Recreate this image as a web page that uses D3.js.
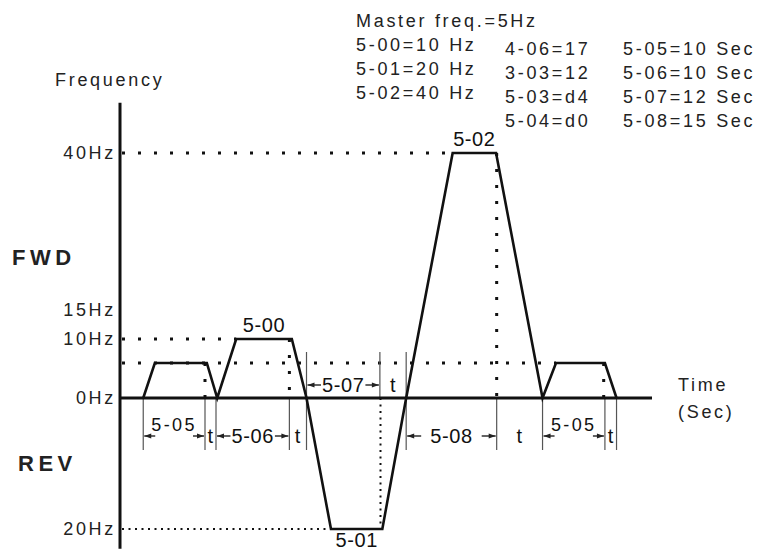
<!DOCTYPE html>
<html>
  <head>
    <meta charset="utf-8">
    <title>Frequency profile</title>
    <style>
      body { margin: 0; background: #fff; }
      svg { display: block; font-family: "Liberation Sans", Arial, sans-serif; }
      .lbl { font-size: 18px; fill: #222; letter-spacing: 2.7px; }
      .big { font-size: 22px; font-weight: bold; fill: #222; letter-spacing: 4.5px; }
      .tag { font-size: 20px; fill: #111; letter-spacing: 0.6px; }
      .tag.spaced { font-size: 18px; letter-spacing: 2.4px; }
      .profile { fill: none; stroke: #111; stroke-width: 2.6; stroke-linejoin: miter; }
      .axis { stroke: #111; stroke-width: 3; }
      .guide { stroke: #111; stroke-width: 3; stroke-dasharray: 3,13; }
      .guide.fine { stroke-width: 2; stroke-dasharray: 2,4.5; }
      .mark { stroke: #555; stroke-width: 1.2; }
      .arrow { stroke: #222; stroke-width: 1.4; }
      .head { fill: #222; }
    </style>
  </head>
  <body>
    <div id="chart"></div>
    <script src="https://cdn.jsdelivr.net/npm/d3@7/dist/d3.min.js"></script>
    <script>
      // speed profile (time in s, frequency in Hz, REV as negative)
      var profileTime = [3.8, 5.7, 14.2, 15.9, 19.0, 28.1, 30.5, 34.5, 42.9, 46.8, 54.4, 61.5, 69.1, 71.3, 79.3, 81.2];
      var profileFreq = [0, 5, 5, 0, 10, 10, 0, -20, -20, 0, 40, 40, 0, 5, 5, 0];

      var freqTicks = [40, 15, 10, 0, -20];
      var freqTickLabels = ['40Hz', '15Hz', '10Hz', '0Hz', '20Hz'];
      var axisFreqTop = 48, axisFreqBottom = -23, axisTimeEnd = 87;

      // horizontal dotted guides: level and the time where they stop
      var guideFreq = [40, 10, 5, -20];
      var guideEnd = [54.4, 19.0, 71.3, 34.5];

      // vertical dotted drops
      var dropTime = [13.9, 27.7, 61.6, 79.1, 42.6];
      var dropFrom = [5, 10, 40, 5, 0];
      var dropTo = [0, 0, 0, 0, -20];

      // thin dimension marks on the time axis
      var markTime = [3.8, 13.9, 15.7, 27.7, 30.5, 42.5, 46.8, 61.6, 69.1, 79.3, 81.2];
      var markSide = ['below', 'below', 'below', 'below', 'both', 'above', 'both', 'below', 'below', 'below', 'below'];

      // dimension spans
      var spanFrom = [3.8, 13.9, 15.7, 27.7, 30.5, 42.5, 46.8, 61.6, 69.1, 79.3];
      var spanTo = [13.9, 15.7, 27.7, 30.5, 42.5, 46.8, 61.6, 69.1, 79.3, 81.2];
      var spanText = ['5-05', 't', '5-06', 't', '5-07', 't', '5-08', 't', '5-05', 't'];
      var spanRow = ['low', 'low', 'low', 'low', 'high', 'high', 'low', 'low', 'low', 'low'];

      // plateau names
      var plateauText = ['5-00', '5-01', '5-02'];
      var plateauFrom = [19.0, 34.5, 54.4];
      var plateauTo = [28.1, 42.9, 61.5];
      var plateauFreq = [10, -20, 40];

      // parameter table
      var paramCol1 = ['Master freq.=5Hz', '5-00=10 Hz', '5-01=20 Hz', '5-02=40 Hz'];
      var paramCol2 = ['4-06=17', '3-03=12', '5-03=d4', '5-04=d0'];
      var paramCol3 = ['5-05=10 Sec', '5-06=10 Sec', '5-07=12 Sec', '5-08=15 Sec'];

      (function(d3) {
        'use strict';

        var width = 758;
        var height = 552;

        var x = d3.scaleLinear().domain([0, axisTimeEnd]).range([120, 652]);
        // schematic, not to scale: piecewise
        var y = d3.scaleLinear()
          .domain([-20, 0, 5, 10, 15, 40])
          .range([529, 398, 363, 339, 310, 153]);

        var svg = d3.select('#chart').append('svg')
          .attr('width', width)
          .attr('height', height);

        function label(cls, tx, ty, str, anchor) {
          return svg.append('text')
            .attr('class', cls)
            .attr('x', tx)
            .attr('y', ty)
            .attr('dy', '0.35em')
            .attr('text-anchor', anchor || 'start')
            .text(str);
        }

        // dotted guides first so the solid lines sit on top
        guideFreq.forEach(function(f, i) {
          svg.append('line')
            .attr('class', f < 0 ? 'guide fine' : 'guide')
            .attr('x1', x(0) + 2).attr('x2', x(guideEnd[i]))
            .attr('y1', y(f)).attr('y2', y(f));
        });
        dropTime.forEach(function(t, i) {
          svg.append('line')
            .attr('class', dropTo[i] < 0 ? 'guide fine' : 'guide')
            .attr('x1', x(t)).attr('x2', x(t))
            .attr('y1', y(dropFrom[i])).attr('y2', y(dropTo[i]));
        });

        // dimension marks
        markTime.forEach(function(t, i) {
          var side = markSide[i];
          svg.append('line')
            .attr('class', 'mark')
            .attr('x1', x(t)).attr('x2', x(t))
            .attr('y1', side === 'below' ? y(0) : y(0) - 46)
            .attr('y2', side === 'above' ? y(0) : y(0) + 52);
        });

        // axes
        svg.append('line').attr('class', 'axis')
          .attr('x1', x(0)).attr('x2', x(0))
          .attr('y1', y(axisFreqTop)).attr('y2', y(axisFreqBottom));
        svg.append('line').attr('class', 'axis')
          .attr('x1', x(0)).attr('x2', x(axisTimeEnd))
          .attr('y1', y(0)).attr('y2', y(0));

        // the profile
        var line = d3.line()
          .x(function(d) { return x(d[0]); })
          .y(function(d) { return y(d[1]); });
        svg.append('path')
          .attr('class', 'profile')
          .attr('d', line(d3.zip(profileTime, profileFreq)));

        // frequency labels
        freqTicks.forEach(function(f, i) {
          label('lbl', 116, y(f), freqTickLabels[i], 'end');
        });
        label('lbl', 55, 80, 'Frequency');
        label('big', 12, 257, 'FWD');
        label('big', 18, 463, 'REV');
        label('lbl', 678, 385, 'Time');
        label('lbl', 678, 412, '(Sec)');

        // plateau names
        plateauText.forEach(function(s, i) {
          var cx = x((plateauFrom[i] + plateauTo[i]) / 2);
          var cy = y(plateauFreq[i]) + (plateauFreq[i] < 0 ? 11 : -14);
          label('tag', cx, cy, s, 'middle');
        });

        // dimension spans with arrows
        function head(px, py, dir) {
          svg.append('path')
            .attr('class', 'head')
            .attr('d', 'M' + px + ',' + py + 'l' + (-dir * 7) + ',-2.6v5.2z');
        }
        spanText.forEach(function(s, i) {
          var xl = x(spanFrom[i]), xr = x(spanTo[i]);
          var cx = (xl + xr) / 2;
          var rowY = spanRow[i] === 'high' ? 385 : 436;
          if (s === 't') {
            label('tag', cx, rowY, s, 'middle');
            return;
          }
          var spaced = s === '5-05';
          var txt = label(spaced ? 'tag spaced' : 'tag', cx, spaced ? rowY - 11 : rowY, s, 'middle');
          var tw = txt.node().getComputedTextLength();
          var len = spaced ? 11 : Math.min(14, (xr - xl - tw) / 2 - 2);
          svg.append('line').attr('class', 'arrow')
            .attr('x1', xl + 1).attr('x2', xl + 1 + len)
            .attr('y1', rowY).attr('y2', rowY);
          svg.append('line').attr('class', 'arrow')
            .attr('x1', xr - 1 - len).attr('x2', xr - 1)
            .attr('y1', rowY).attr('y2', rowY);
          head(xl + 1, rowY, -1);
          head(xr - 1, rowY, 1);
        });

        // parameter table
        paramCol1.forEach(function(s, i) { label('lbl', 356, 21 + i * 24, s); });
        paramCol2.forEach(function(s, i) { label('lbl', 505, 49 + i * 24, s); });
        paramCol3.forEach(function(s, i) { label('lbl', 623, 49 + i * 24, s); });

      })(window.d3);
    </script>
  </body>
</html>
